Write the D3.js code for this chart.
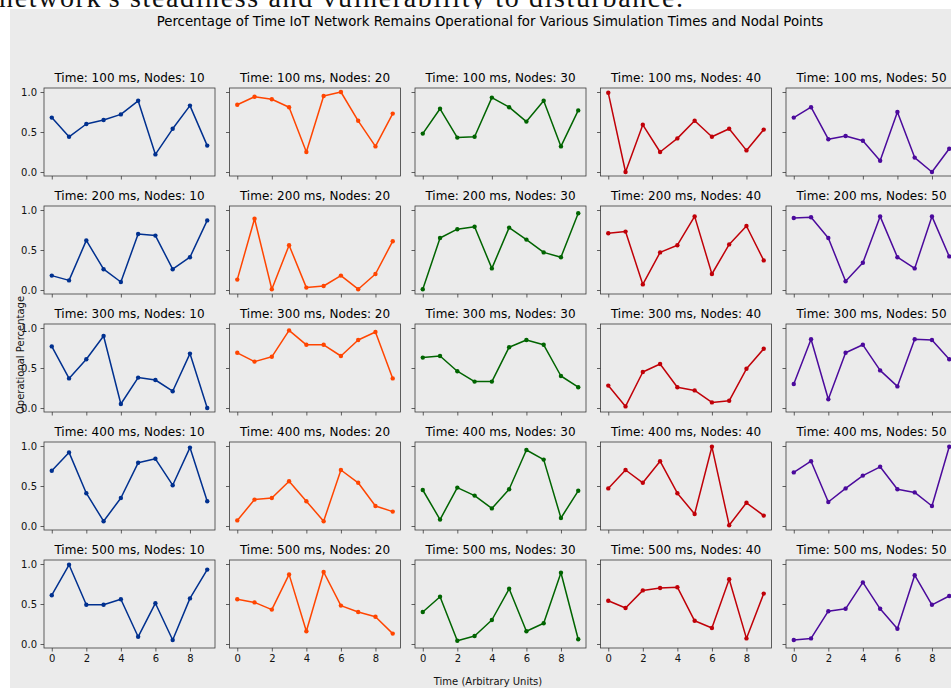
<!DOCTYPE html>
<html lang="en">
<head>
<meta charset="UTF-8">
<title>IoT Network Operational Percentage</title>
<style>
* { margin: 0; padding: 0; }
body { background: #fff; width: 951px; height: 688px; overflow: hidden; }
svg { display: block; font-family: "DejaVu Sans", sans-serif; }
</style>
</head>
<body>
<div id="chart"></div>
<script src="https://d3js.org/d3.v7.min.js"></script>
<script>
// Simulation settings (rows = time, columns = node count)
var times = [100, 200, 300, 400, 500];
var nodes = [10, 20, 30, 40, 50];
var steps = [0, 1, 2, 3, 4, 5, 6, 7, 8, 9];
var xTicks = [0, 2, 4, 6, 8];
var yTicks = [0.0, 0.5, 1.0];
var colors = ["#00308F", "#FF4500", "#006400", "#C00008", "#4B0A9C"];

// Operational percentage per time row, one array per node count
var ops100 = [
	[0.68, 0.44, 0.60, 0.65, 0.72, 0.89, 0.22, 0.54, 0.83, 0.33],
	[0.84, 0.94, 0.91, 0.81, 0.25, 0.95, 1.00, 0.64, 0.32, 0.73],
	[0.48, 0.79, 0.43, 0.44, 0.93, 0.81, 0.63, 0.89, 0.32, 0.77],
	[0.99, 0.00, 0.59, 0.25, 0.42, 0.64, 0.44, 0.54, 0.27, 0.53],
	[0.68, 0.81, 0.41, 0.45, 0.39, 0.14, 0.75, 0.18, 0.00, 0.29]
];
var ops200 = [
	[0.18, 0.12, 0.62, 0.26, 0.10, 0.70, 0.68, 0.26, 0.41, 0.87],
	[0.13, 0.89, 0.01, 0.56, 0.03, 0.05, 0.18, 0.01, 0.20, 0.61],
	[0.01, 0.65, 0.76, 0.79, 0.27, 0.78, 0.63, 0.47, 0.41, 0.96],
	[0.71, 0.73, 0.07, 0.47, 0.56, 0.92, 0.20, 0.57, 0.80, 0.37],
	[0.90, 0.91, 0.65, 0.11, 0.34, 0.92, 0.41, 0.27, 0.92, 0.42]
];
var ops300 = [
	[0.77, 0.37, 0.61, 0.90, 0.05, 0.38, 0.35, 0.21, 0.68, 0.00],
	[0.69, 0.58, 0.64, 0.97, 0.79, 0.79, 0.65, 0.85, 0.95, 0.37],
	[0.63, 0.65, 0.46, 0.33, 0.33, 0.76, 0.85, 0.79, 0.40, 0.26],
	[0.28, 0.02, 0.45, 0.55, 0.26, 0.22, 0.07, 0.09, 0.49, 0.74],
	[0.30, 0.86, 0.11, 0.69, 0.79, 0.47, 0.27, 0.86, 0.85, 0.61]
];
var ops400 = [
	[0.69, 0.92, 0.41, 0.06, 0.35, 0.79, 0.84, 0.51, 0.98, 0.31],
	[0.07, 0.33, 0.35, 0.56, 0.31, 0.06, 0.70, 0.54, 0.25, 0.18],
	[0.45, 0.08, 0.48, 0.38, 0.22, 0.46, 0.95, 0.83, 0.10, 0.44],
	[0.47, 0.70, 0.54, 0.81, 0.41, 0.15, 0.99, 0.01, 0.29, 0.13],
	[0.67, 0.81, 0.30, 0.47, 0.63, 0.74, 0.46, 0.42, 0.25, 0.99]
];
var ops500 = [
	[0.61, 0.99, 0.49, 0.49, 0.56, 0.09, 0.51, 0.05, 0.57, 0.93],
	[0.56, 0.52, 0.43, 0.87, 0.16, 0.90, 0.48, 0.40, 0.34, 0.13],
	[0.40, 0.59, 0.04, 0.10, 0.30, 0.69, 0.16, 0.26, 0.89, 0.06],
	[0.54, 0.45, 0.67, 0.70, 0.71, 0.29, 0.20, 0.81, 0.07, 0.63],
	[0.05, 0.07, 0.41, 0.44, 0.77, 0.44, 0.19, 0.86, 0.49, 0.60]
];
var opsByTime = [ops100, ops200, ops300, ops400, ops500];

(function() {
	var width = 951, height = 688;
	var panelW = 171, panelH = 88;
	var left0 = 44, top0 = 88, colStep = 185.5, rowStep = 118;
	var bg = "#ebebeb", spine = "#3a3a3a";

	var svg = d3.select("#chart").append("svg")
		.attr("width", width)
		.attr("height", height);

	// cropped caption text above the figure (page it was captured from)
	svg.append("text")
		.attr("x", -1)
		.attr("y", 7)
		.attr("font-family", "'Liberation Serif', 'DejaVu Serif', serif")
		.attr("font-size", 28)
		.attr("textLength", 684)
		.attr("fill", "#111")
		.text("network's steadiness and vulnerability to disturbance.");

	// figure area
	svg.append("rect")
		.attr("x", 10).attr("y", 9)
		.attr("width", width - 10).attr("height", height - 9)
		.attr("fill", bg);

	svg.append("text")
		.attr("x", 490).attr("y", 26)
		.attr("text-anchor", "middle")
		.attr("font-size", 13.3)
		.attr("fill", "#000")
		.text("Percentage of Time IoT Network Remains Operational for Various Simulation Times and Nodal Points");

	var x = d3.scaleLinear().domain([-0.45, 9.45]).range([0, panelW]);
	var y = d3.scaleLinear().domain([-0.05, 1.05]).range([panelH, 0]);

	times.forEach(function(t, r) {
		nodes.forEach(function(n, c) {
			var vals = opsByTime[r][c];
			var pts = steps.map(function(s, i) { return [s, vals[i]]; });
			var g = svg.append("g")
				.attr("transform", "translate(" + (left0 + c * colStep) + "," + (top0 + r * rowStep) + ")");

			g.append("rect")
				.attr("width", panelW).attr("height", panelH)
				.attr("fill", bg);

			var xAxis = d3.axisBottom(x).tickValues(xTicks).tickSize(3.5).tickPadding(3.5)
				.tickFormat(r === times.length - 1 ? d3.format("d") : function() { return ""; });
			var yAxis = d3.axisLeft(y).tickValues(yTicks).tickSize(3.5).tickPadding(3.5)
				.tickFormat(c === 0 ? d3.format(".1f") : function() { return ""; });

			var gx = g.append("g").attr("transform", "translate(0," + panelH + ")").call(xAxis);
			var gy = g.append("g").call(yAxis);
			[gx, gy].forEach(function(a) {
				a.select(".domain").remove();
				a.selectAll(".tick line").attr("stroke", spine).attr("stroke-width", 0.8);
				a.selectAll(".tick text").attr("font-size", 10).attr("fill", "#111")
					.attr("font-family", "'DejaVu Sans', sans-serif");
			});

			var line = d3.line()
				.x(function(d) { return x(d[0]); })
				.y(function(d) { return y(d[1]); });

			g.append("path")
				.datum(pts)
				.attr("d", line)
				.attr("fill", "none")
				.attr("stroke", colors[c])
				.attr("stroke-width", 1.5)
				.attr("stroke-linejoin", "round");

			g.selectAll("circle.pt").data(pts).join("circle")
				.attr("class", "pt")
				.attr("cx", function(d) { return x(d[0]); })
				.attr("cy", function(d) { return y(d[1]); })
				.attr("r", 2.2)
				.attr("fill", colors[c]);

			g.append("rect")
				.attr("width", panelW).attr("height", panelH)
				.attr("fill", "none")
				.attr("stroke", spine)
				.attr("stroke-width", 0.8);

			g.append("text")
				.attr("x", panelW / 2).attr("y", -6)
				.attr("text-anchor", "middle")
				.attr("font-size", 12)
				.attr("fill", "#000")
				.text("Time: " + t + " ms, Nodes: " + n);
		});
	});

	svg.append("text")
		.attr("x", 488).attr("y", 685)
		.attr("text-anchor", "middle")
		.attr("font-size", 10)
		.attr("fill", "#111")
		.text("Time (Arbitrary Units)");

	svg.append("text")
		.attr("transform", "translate(24,355) rotate(-90)")
		.attr("text-anchor", "middle")
		.attr("font-size", 10)
		.attr("fill", "#111")
		.text("Operational Percentage");
})();
</script>
</body>
</html>
